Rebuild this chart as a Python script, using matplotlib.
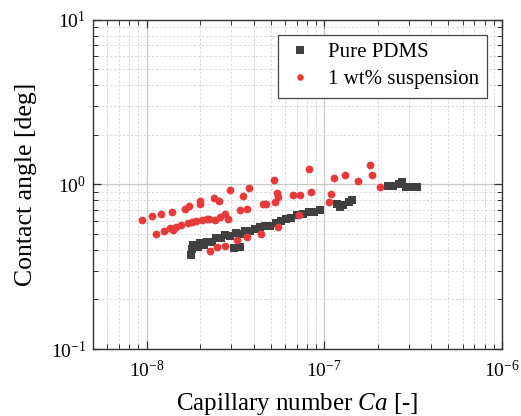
import numpy as np
import matplotlib
matplotlib.use('Agg')
import matplotlib.pyplot as plt
from matplotlib.ticker import LogLocator, NullFormatter

plt.rcParams['font.family'] = ['Liberation Serif', 'DejaVu Serif']
plt.rcParams['mathtext.fontset'] = 'custom'
plt.rcParams['mathtext.rm'] = 'Liberation Serif'
plt.rcParams['mathtext.it'] = 'Liberation Serif:italic'
plt.rcParams['axes.unicode_minus'] = False

# Pure PDMS
pdms_ca = [1.79e-8, 1.80e-8, 1.83e-8, 1.94e-8, 1.99e-8, 2.10e-8, 2.18e-8, 2.33e-8, 2.45e-8, 2.62e-8,
           2.76e-8, 2.94e-8, 3.10e-8, 3.37e-8, 3.18e-8, 3.35e-8, 3.58e-8, 3.82e-8, 4.07e-8, 4.35e-8,
           4.64e-8, 4.95e-8, 5.35e-8, 5.71e-8, 6.10e-8, 6.51e-8, 7.04e-8, 7.60e-8, 8.23e-8, 8.79e-8,
           9.49e-8, 1.18e-7, 1.22e-7, 1.28e-7, 1.37e-7, 1.44e-7, 2.27e-7, 2.45e-7, 2.62e-7, 2.75e-7,
           2.87e-7, 3.06e-7, 3.31e-7]
pdms_theta = [0.375, 0.403, 0.426, 0.417, 0.438, 0.426, 0.447, 0.450, 0.470, 0.476,
              0.490, 0.483, 0.411, 0.417, 0.504, 0.502, 0.518, 0.525, 0.533, 0.548,
              0.556, 0.563, 0.587, 0.596, 0.621, 0.630, 0.648, 0.662, 0.676, 0.685,
              0.695, 0.756, 0.725, 0.751, 0.788, 0.800, 0.979, 0.986, 1.007, 1.033,
              0.959, 0.966, 0.972]

# 1 wt% suspension
susp_ca = [0.944e-8, 1.07e-8, 1.21e-8, 1.39e-8, 1.65e-8, 1.73e-8, 2.00e-8, 2.01e-8, 2.39e-8, 2.55e-8,
           2.94e-8, 3.50e-8, 3.77e-8, 4.54e-8, 4.73e-8, 5.24e-8, 5.41e-8, 5.50e-8, 5.28e-8, 6.71e-8,
           7.31e-8, 8.26e-8, 8.41e-8, 1.14e-7, 1.31e-7, 1.54e-7, 1.80e-7, 1.86e-7, 2.07e-7, 1.09e-7,
           1.07e-7, 3.35e-8, 3.67e-8, 2.76e-8, 2.88e-8, 2.25e-8, 7.24e-8, 5.52e-8,
           1.13e-8, 1.26e-8, 1.35e-8, 1.41e-8, 1.47e-8, 1.57e-8, 1.71e-8, 1.80e-8, 1.91e-8, 2.04e-8,
           2.18e-8, 2.42e-8, 2.58e-8,
           2.27e-8, 2.50e-8, 2.76e-8, 3.21e-8, 3.70e-8, 4.41e-8]
susp_theta = [0.612, 0.639, 0.662, 0.685, 0.705, 0.740, 0.766, 0.792, 0.830, 0.792,
              0.920, 0.849, 0.955, 0.761, 0.761, 1.072, 0.890, 0.834, 0.780, 0.866,
              0.869, 1.246, 0.898, 1.092, 1.150, 1.047, 1.305, 1.146, 0.972, 0.878,
              0.780, 0.695, 0.705, 0.663, 0.619, 0.619, 0.648, 0.550,
              0.500, 0.525, 0.545, 0.532, 0.550, 0.567, 0.582, 0.590, 0.598, 0.610,
              0.621, 0.610, 0.633,
              0.397, 0.416, 0.423, 0.461, 0.479, 0.501]

fig = plt.figure(figsize=(5.21, 4.16), dpi=100)
ax = fig.add_axes([0.1785, 0.161, 0.785, 0.791])

ax.plot(pdms_ca, pdms_theta, 's', color='#404040', ms=6.0, mew=0, label='Pure PDMS')
ax.plot(susp_ca, susp_theta, 'o', color='#e83a3a', ms=5.6, mew=0, label='1 wt% suspension')

ax.set_xscale('log')
ax.set_yscale('log')
ax.set_xlim(5e-9, 1e-6)
ax.set_ylim(1e-1, 1e1)

for a in (ax.xaxis, ax.yaxis):
    a.set_major_locator(LogLocator(base=10))
    a.set_minor_locator(LogLocator(base=10, subs=np.arange(2, 10)))
    a.set_minor_formatter(NullFormatter())

ax.grid(True, which='major', color='#c8c8c8', lw=0.9, ls='-')
ax.grid(True, which='minor', color='#d4d4d4', lw=0.6, ls=(0, (3, 2)))
ax.set_axisbelow(True)

ax.tick_params(which='both', direction='in', top=True, right=True, colors='#333333',
               labelcolor='black', labelsize=14)
ax.tick_params(which='major', length=6, width=0.9)
ax.tick_params(which='minor', length=3.5, width=0.7)
ax.tick_params(axis='x', pad=8)
ax.tick_params(axis='y', pad=5)
for s in ax.spines.values():
    s.set_color('#333333')
    s.set_linewidth(1.0)

ax.set_xlabel('Capillary number $Ca$ [-]', fontsize=18, labelpad=7)
ax.set_ylabel('Contact angle [deg]', fontsize=18.5, labelpad=10)

leg = ax.legend(loc='upper right', fontsize=15, fancybox=False, framealpha=1,
                edgecolor='#444444', borderaxespad=0.7, handletextpad=0.7, handlelength=1.3,
                markerscale=0.85, borderpad=0.4, labelspacing=0.35)
leg.get_frame().set_linewidth(0.9)

fig.savefig('out.png', dpi=100)
